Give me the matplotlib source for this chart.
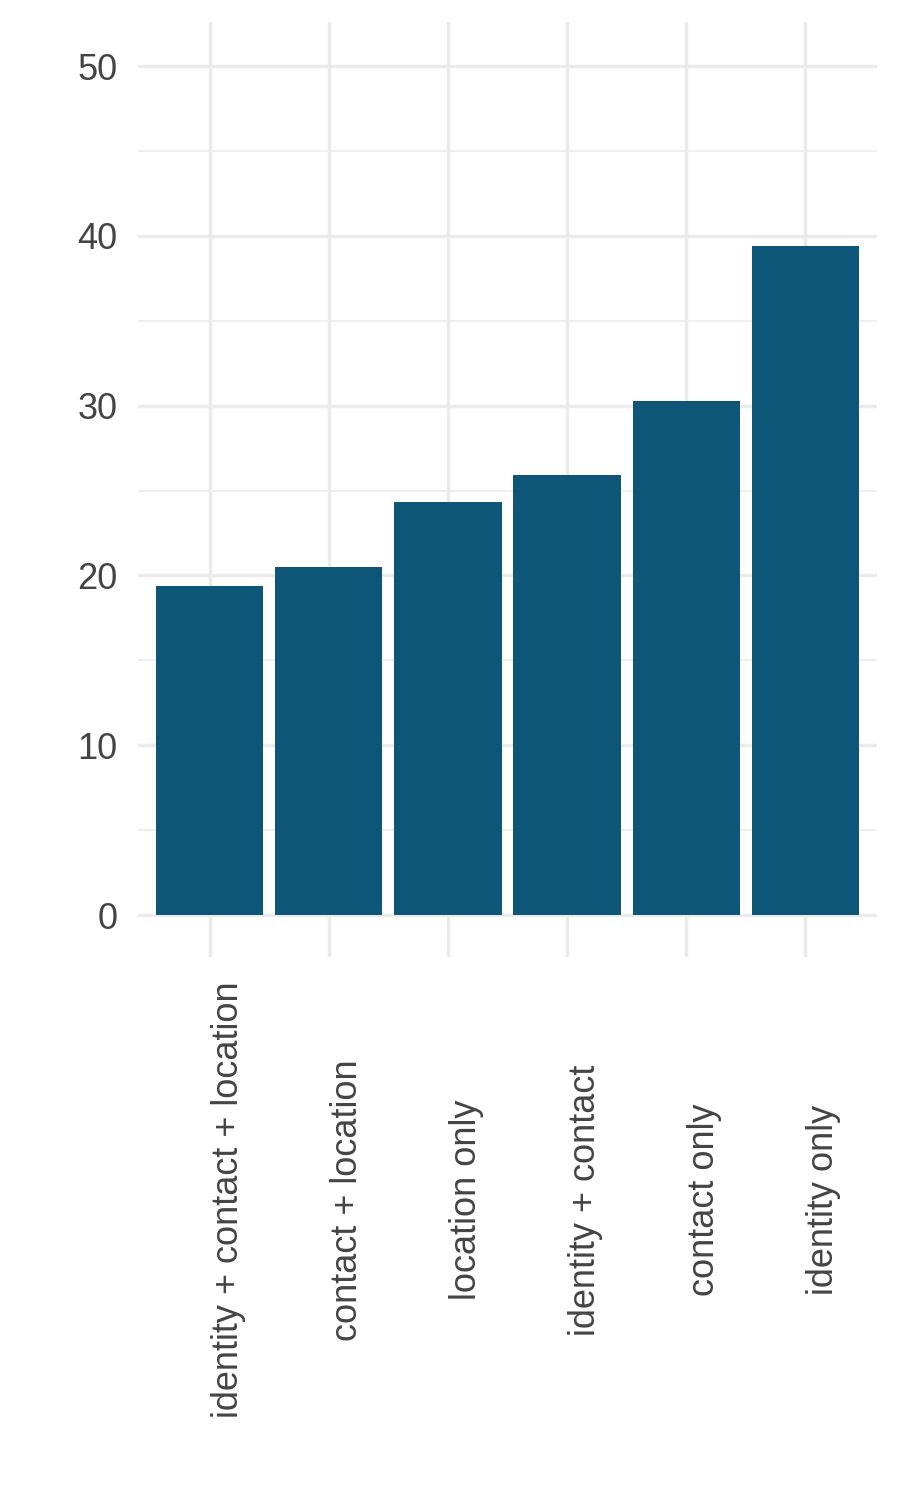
import matplotlib
matplotlib.use("Agg")
import matplotlib.pyplot as plt
from matplotlib.transforms import ScaledTranslation

categories = ["identity + contact + location", "contact + location", "location only",
              "identity + contact", "contact only", "identity only"]
values = [19.4, 20.5, 24.3, 25.9, 30.3, 39.4]
yticks = [0, 10, 20, 30, 40, 50]
yminor = [5, 15, 25, 35, 45]

plt.rcParams['font.family'] = ['Liberation Sans', 'DejaVu Sans']

fig = plt.figure(figsize=(9, 15), dpi=100)
ax = fig.add_axes([138/900, 1 - 957/1500, (877-138)/900, (957-22)/1500])

x = list(range(len(categories)))
ax.bar(x, values, width=0.9, color="#0D5677", zorder=3)

ax.set_xlim(-0.6, len(categories) - 0.4)
ax.set_ylim(-2.47, 52.6)
ax.set_yticks(yticks)
ax.set_yticks(yminor, minor=True)
ax.set_xticks(x)
ax.set_xticklabels(categories)

ax.grid(which='major', axis='both', color="#EBEBEB", linewidth=2.5, zorder=0)
ax.grid(which='minor', axis='y', color="#EBEBEB", linewidth=1.2, zorder=0)
for s in ax.spines.values():
    s.set_visible(False)

ax.tick_params(axis='both', which='both', length=0)
ax.tick_params(axis='y', labelsize=26, labelcolor="#444444", pad=15)
ax.tick_params(axis='x', labelsize=26, labelcolor="#444444", pad=175)

for lab in ax.get_xticklabels():
    lab.set_rotation(90)
    lab.set_va('center')
    lab.set_ha('left')
    lab.set_transform(lab.get_transform() + ScaledTranslation(1/100, 0, fig.dpi_scale_trans))

fig.savefig("out.png", dpi=100)
